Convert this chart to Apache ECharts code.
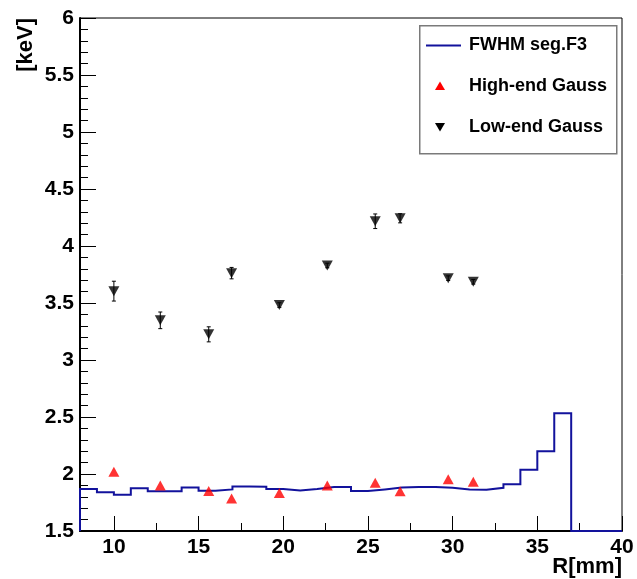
<!DOCTYPE html>
<html><head><meta charset="utf-8">
<script src="https://cdn.jsdelivr.net/npm/echarts@6/dist/echarts.min.js"></script>
<style>html,body{margin:0;padding:0;background:#fff}#c{width:637px;height:579px}</style>
</head><body><div id="c"></div>
<script>
// ---- data ----
const binLowEdges = [8,9,10,11,12,13,14,15,16,17,18,19,20,21,22,23,24,25,26,27,28,29,30,31,32,33,34,35,36,37,38,39];
const binWidth = 1;
const fwhmValues = [1.868,1.841,1.818,1.874,1.848,1.848,1.882,1.853,1.865,1.891,1.888,1.868,1.856,1.868,1.885,1.885,1.850,1.865,1.882,1.885,1.885,1.879,1.865,1.862,1.879,1.909,2.037,2.200,2.533,0,0,0];
const pointR = [10.0,12.74,15.6,16.95,19.77,22.6,25.43,26.9,29.74,31.22];
const highEnd = [2.019,1.900,1.850,1.786,1.833,1.900,1.923,1.848,1.953,1.932];
const lowEnd = [3.604,3.348,3.225,3.762,3.482,3.829,4.217,4.243,3.718,3.686];
const lowEndErr = [0.087,0.073,0.066,0.05,0.02,0.02,0.064,0.04,0.02,0.02];
const xTickLabels = [10,15,20,25,30,35,40];
const xMinorTicks = [12.5,17.5,22.5,27.5,32.5,37.5];
const yMin = 1.5, yMax = 6, xMin = 8, xMax = 40;
const seriesNames = ['FWHM seg.F3','High-end Gauss','Low-end Gauss'];

// ---- build ----
const FONT = "'Liberation Sans', Arial, Helvetica, sans-serif";
// explicit histogram outline: rises from the axis minimum at the first low edge, then flat tops per bin
const stepData = [[binLowEdges[0], yMin]];
binLowEdges.forEach((x, i) => {
  const v = Math.max(fwhmValues[i], yMin);
  stepData.push([x, v]);
  stepData.push([x + binWidth, v]);
});

const chart = echarts.init(document.getElementById('c'), null, {renderer:'canvas'});
const opt = {
  animation:false,
  backgroundColor:'#fff',
  grid:{left:80,right:15,top:18,bottom:48,show:true,borderColor:'#000',borderWidth:1,backgroundColor:'transparent'},
  xAxis:[{
    type:'value',min:xMin,max:xMax,
    axisLine:{show:true,onZero:false,lineStyle:{color:'#000',width:2}},
    axisTick:{show:true,inside:true,length:15,customValues:xTickLabels,lineStyle:{color:'#000',width:1}},
    axisLabel:{show:true,customValues:xTickLabels,margin:6,color:'#000',fontSize:21,fontWeight:'bold',fontFamily:FONT},
    splitLine:{show:false}
  },{
    type:'value',min:xMin,max:xMax,position:'bottom',
    axisLine:{show:false},
    axisTick:{show:true,inside:true,length:8,customValues:xMinorTicks,lineStyle:{color:'#000',width:1}},
    axisLabel:{show:false},
    splitLine:{show:false}
  }],
  yAxis:{
    type:'value',min:yMin,max:yMax,interval:0.5,
    axisLine:{show:true,onZero:false,lineStyle:{color:'#000',width:2}},
    axisTick:{show:true,inside:true,length:16,lineStyle:{color:'#000',width:1}},
    minorTick:{show:true,splitNumber:5,length:8,lineStyle:{color:'#000',width:1}},
    axisLabel:{margin:6,color:'#000',fontSize:21,fontWeight:'bold',fontFamily:FONT,showMinLabel:true,showMaxLabel:true},
    splitLine:{show:false}
  },
  series:[
    {name:seriesNames[0],type:'line',data:stepData,showSymbol:false,symbol:'none',
     lineStyle:{color:'#12129c',width:2,join:'miter',cap:'butt'},clip:true,z:2},
    {name:'errbars',type:'custom',data:pointR.map((x,i)=>[x,lowEnd[i],lowEndErr[i]]),z:3,
     renderItem:function(params,api){
       const x=api.value(0),y=api.value(1),e=api.value(2);
       const t=api.coord([x,y+e]), b=api.coord([x,y-e]);
       const st={stroke:'#000',lineWidth:1};
       return {type:'group',children:[
         {type:'line',shape:{x1:t[0],y1:t[1],x2:b[0],y2:b[1]},style:st},
         {type:'line',shape:{x1:t[0]-2,y1:t[1],x2:t[0]+2,y2:t[1]},style:st},
         {type:'line',shape:{x1:b[0]-2,y1:b[1],x2:b[0]+2,y2:b[1]},style:st}
       ]};
     }},
    {name:seriesNames[1],type:'scatter',data:pointR.map((x,i)=>[x,highEnd[i]]),symbol:'triangle',symbolSize:[11,10],
     itemStyle:{color:'#ff0000'},z:4},
    {name:seriesNames[2],type:'scatter',data:pointR.map((x,i)=>[x,lowEnd[i]]),symbol:'triangle',symbolRotate:180,symbolSize:[11,10],
     itemStyle:{color:'#000'},z:4}
  ],
  graphic:[
    {type:'rect',left:419,top:25,shape:{width:197,height:128},style:{fill:'#fff',stroke:'#7a7a7a',lineWidth:1.5},z:10},
    {type:'line',shape:{x1:426,y1:45.5,x2:461,y2:45.5},style:{stroke:'#12129c',lineWidth:2},z:11},
    {type:'polygon',shape:{points:[[440,81.5],[445,90],[435,90]]},style:{fill:'#ff0000'},z:11},
    {type:'polygon',shape:{points:[[440,131.5],[445,123],[435,123]]},style:{fill:'#000'},z:11},
    {type:'text',x:469,y:45.5,style:{text:seriesNames[0],fill:'#000',font:'bold 18px '+FONT,verticalAlign:'middle',align:'left'},z:11},
    {type:'text',x:469,y:86,style:{text:seriesNames[1],fill:'#000',font:'bold 18px '+FONT,verticalAlign:'middle',align:'left'},z:11},
    {type:'text',x:469,y:127,style:{text:seriesNames[2],fill:'#000',font:'bold 18px '+FONT,verticalAlign:'middle',align:'left'},z:11},
    {type:'text',x:622,y:567,style:{text:'R[mm]',fill:'#000',font:'bold 22px '+FONT,verticalAlign:'middle',align:'right'},z:11},
    {type:'text',x:26,y:18,rotation:Math.PI/2,style:{text:'[keV]',fill:'#000',font:'bold 22px '+FONT,verticalAlign:'middle',align:'right'},z:11}
  ]
};
chart.setOption(opt);
</script>
</body></html>
